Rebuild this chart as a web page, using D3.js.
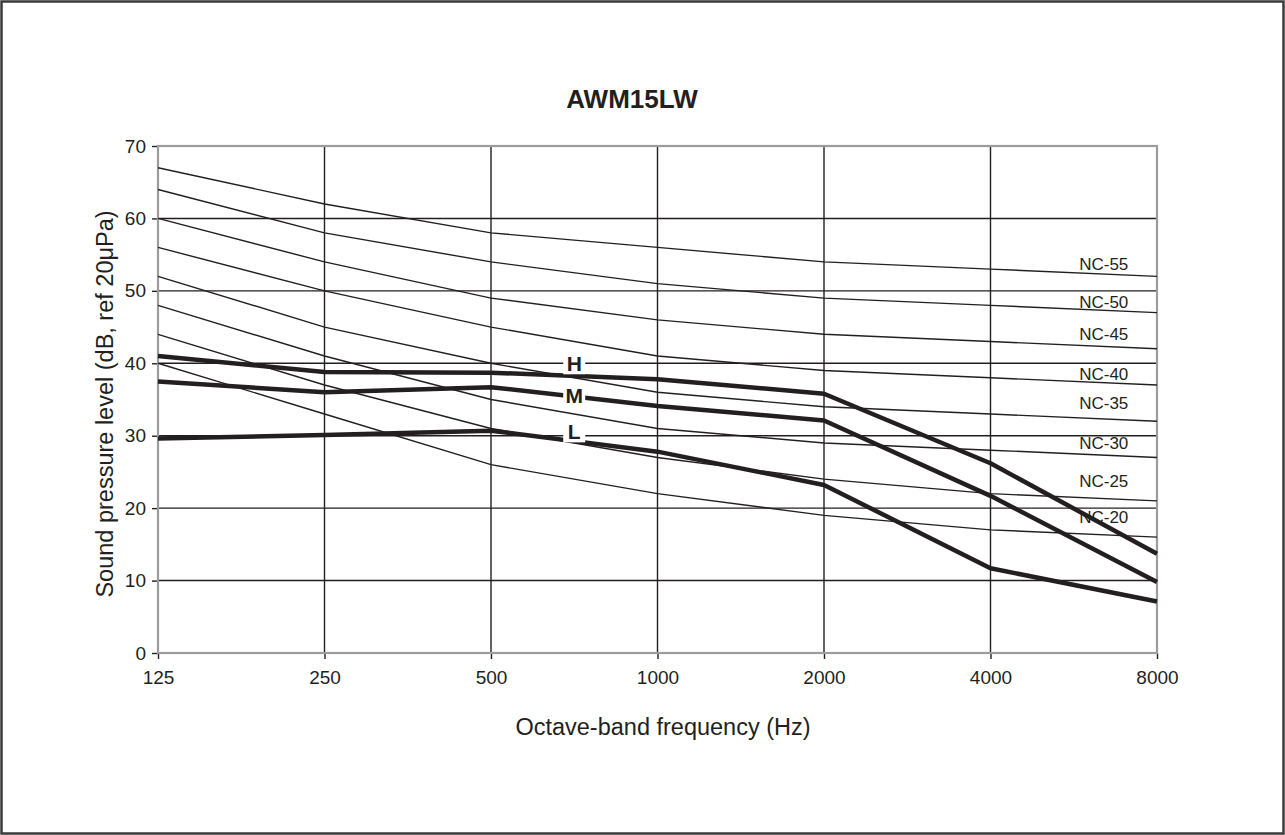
<!DOCTYPE html>
<html>
<head>
<meta charset="utf-8">
<script src="https://cdn.jsdelivr.net/npm/d3@7"></script>
<style>
  body { margin: 0; background: #fff; }
  svg { display: block; font-family: "Liberation Sans", Arial, sans-serif; }
</style>
</head>
<body>
<div id="chart"></div>
<script>
// octave band centre frequencies
const freqs = [125, 250, 500, 1000, 2000, 4000, 8000];
const yTicks = [0, 10, 20, 30, 40, 50, 60, 70];

// NC reference curves
const ncNames = ['NC-20', 'NC-25', 'NC-30', 'NC-35', 'NC-40', 'NC-45', 'NC-50', 'NC-55'];
const nc20 = [40, 33, 26, 22, 19, 17, 16];
const nc25 = [44, 37, 31, 27, 24, 22, 21];
const nc30 = [48, 41, 35, 31, 29, 28, 27];
const nc35 = [52, 45, 40, 36, 34, 33, 32];
const nc40 = [56, 50, 45, 41, 39, 38, 37];
const nc45 = [60, 54, 49, 46, 44, 43, 42];
const nc50 = [64, 58, 54, 51, 49, 48, 47];
const nc55 = [67, 62, 58, 56, 54, 53, 52];
const ncLabelY = [18.8, 23.7, 29.0, 34.5, 38.5, 44.1, 48.5, 53.7];
const ncLabelFreq = 7100;

// unit measurements (H / M / L fan speed)
const fanNames = ['H', 'M', 'L'];
const fanH = [41.0, 38.8, 38.7, 37.8, 35.8, 26.2, 13.7];
const fanM = [37.5, 36.0, 36.7, 34.1, 32.1, 21.7, 9.8];
const fanL = [29.6, 30.1, 30.7, 27.8, 23.2, 11.7, 7.1];
const fanLabelY = [40.0, 35.5, 30.6];
const fanLabelFreq = 707;

const W = 1285, H = 835;
const margin = {top: 146, right: 128, bottom: 182, left: 158};
const width = W - margin.left - margin.right,
    height = H - margin.top - margin.bottom;

const ink = '#231f20';

const svg = d3.select('#chart').append('svg')
    .attr('width', W)
    .attr('height', H);

// outer frame
svg.append('rect')
    .attr('x', 1.5).attr('y', 1.5)
    .attr('width', W - 3).attr('height', H - 3)
    .style('fill', 'none')
    .style('stroke', '#3a3a3a')
    .style('stroke-width', 2.5);

const x = d3.scaleLog().base(2)
    .domain([125, 8000])
    .range([0, width]);

const y = d3.scaleLinear()
    .domain([0, 70])
    .range([height, 0]);

const g = svg.append('g')
    .attr('transform', `translate(${margin.left},${margin.top})`);

// NC labels (underneath the lines)
g.selectAll('.nclabel')
    .data(ncNames)
    .enter()
    .append('text')
    .attr('class', 'nclabel')
    .attr('x', x(ncLabelFreq))
    .attr('y', (d, i) => y(ncLabelY[i]))
    .attr('dy', '0.36em')
    .attr('text-anchor', 'end')
    .style('font-size', '17px')
    .style('fill', ink)
    .text(d => d);

// grid
g.append('g')
    .selectAll('line')
    .data(yTicks.filter(d => d > 0 && d < 70))
    .enter()
    .append('line')
    .attr('x1', 0).attr('x2', width)
    .attr('y1', d => y(d)).attr('y2', d => y(d))
    .style('stroke', ink)
    .style('stroke-width', 1.4);

g.append('g')
    .selectAll('line')
    .data(freqs.slice(1, -1))
    .enter()
    .append('line')
    .attr('x1', d => x(d)).attr('x2', d => x(d))
    .attr('y1', 0).attr('y2', height)
    .style('stroke', ink)
    .style('stroke-width', 1.4);

// axes
const yAxis = g.append('g')
    .call(d3.axisLeft(y).tickValues(yTicks).tickSize(6).tickPadding(6));
const xAxis = g.append('g')
    .attr('transform', `translate(0,${height})`)
    .call(d3.axisBottom(x).tickValues(freqs).tickFormat(d3.format('d')).tickSize(6).tickPadding(12));

[yAxis, xAxis].forEach(a => {
    a.select('.domain').remove();
    a.selectAll('line').style('stroke', ink).style('stroke-width', 1.4);
    a.selectAll('text')
        .style('font-size', '19px')
        .style('font-family', '"Liberation Sans", Arial, sans-serif')
        .style('fill', ink);
});

// plot border
g.append('rect')
    .attr('width', width)
    .attr('height', height)
    .style('fill', 'none')
    .style('stroke', '#9c9c9c')
    .style('stroke-width', 2.2);

const line = d3.line()
    .x((d, i) => x(freqs[i]))
    .y(d => y(d));

g.selectAll('.nc')
    .data([nc20, nc25, nc30, nc35, nc40, nc45, nc50, nc55])
    .enter()
    .append('path')
    .attr('class', 'nc')
    .attr('d', line)
    .style('fill', 'none')
    .style('stroke', ink)
    .style('stroke-width', 1.4);

g.selectAll('.fan')
    .data([fanH, fanM, fanL])
    .enter()
    .append('path')
    .attr('class', 'fan')
    .attr('d', line)
    .style('fill', 'none')
    .style('stroke', ink)
    .style('stroke-width', 4.5)
    .style('stroke-linejoin', 'round');

// H / M / L labels with white background
const fanLabels = g.selectAll('.fanlabel')
    .data(fanNames)
    .enter()
    .append('g')
    .attr('class', 'fanlabel')
    .attr('transform', (d, i) => `translate(${x(fanLabelFreq)},${y(fanLabelY[i])})`);

fanLabels.append('rect')
    .attr('x', -11).attr('y', -11)
    .attr('width', 22).attr('height', 22)
    .style('fill', '#fff');

fanLabels.append('text')
    .attr('text-anchor', 'middle')
    .attr('dy', '0.36em')
    .style('font-size', '21px')
    .style('font-weight', 'bold')
    .style('fill', ink)
    .text(d => d);

// titles
svg.append('text')
    .attr('x', 632)
    .attr('y', 108)
    .attr('text-anchor', 'middle')
    .style('font-size', '26px')
    .style('font-weight', 'bold')
    .style('fill', ink)
    .text('AWM15LW');

svg.append('text')
    .attr('x', 663)
    .attr('y', 735)
    .attr('text-anchor', 'middle')
    .style('font-size', '23.5px')
    .style('fill', ink)
    .text('Octave-band frequency (Hz)');

svg.append('text')
    .attr('transform', 'translate(113,404) rotate(-90)')
    .attr('text-anchor', 'middle')
    .style('font-size', '23.5px')
    .style('fill', ink)
    .text('Sound pressure level (dB, ref 20\u03bcPa)');
</script>
</body>
</html>
